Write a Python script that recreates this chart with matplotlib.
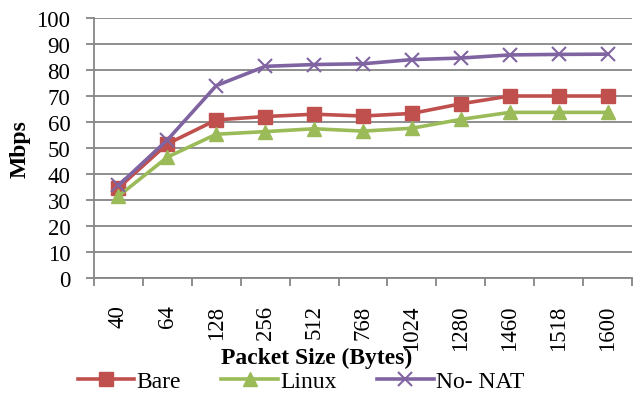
import matplotlib
matplotlib.use("Agg")
import matplotlib.pyplot as plt
import numpy as np

# throughput per packet size, Mbps
packet_sizes = ["40", "64", "128", "256", "512", "768", "1024", "1280", "1460", "1518", "1600"]
bare = [34.7, 51.6, 60.8, 62.1, 63.0, 62.3, 63.3, 67.0, 70.0, 70.0, 70.0]
linux = [31.5, 46.5, 55.3, 56.3, 57.4, 56.5, 57.6, 61.0, 63.7, 63.7, 63.7]
no_nat = [35.6, 53.1, 74.0, 81.4, 82.1, 82.4, 84.0, 84.6, 85.8, 86.0, 86.1]

plt.rcParams["font.family"] = ["Liberation Serif", "DejaVu Serif"]

fig = plt.figure(figsize=(6.34, 4.06), dpi=100)
ax = fig.add_axes([0.1483, 0.3128, 0.8486, 0.6404])

x = np.arange(len(packet_sizes))
grid_c = "#868686"

ax.plot(x, bare, color="#C0504D", lw=2.6, marker="s", ms=10, label="Bare", zorder=3)
ax.plot(x, linux, color="#9BBB59", lw=2.6, marker="^", ms=10, label="Linux", zorder=3)
ax.plot(x, no_nat, color="#8064A2", lw=2.6, marker="x", ms=10, mew=1.5, label="No- NAT", zorder=4)

ax.set_xlim(-0.5, len(packet_sizes) - 0.5)
ax.set_ylim(0, 100)
ax.set_yticks(np.arange(0, 101, 10))
ax.yaxis.grid(True, color=grid_c, lw=1.3)
ax.set_axisbelow(True)

ax.set_xticks(x)
ax.set_xticklabels(packet_sizes, rotation=90)
ax.set_xticks(np.arange(-0.5, len(packet_sizes)), minor=True)
ax.tick_params(axis="x", which="major", length=0, pad=19, labelsize=16.5)
ax.tick_params(axis="x", which="minor", length=6, width=1.3, color=grid_c)
ax.tick_params(axis="y", length=6, width=1.3, color=grid_c, labelsize=16.5, pad=11)

for side in ("top", "right"):
    ax.spines[side].set_visible(False)
for side in ("left", "bottom"):
    ax.spines[side].set_color(grid_c)
    ax.spines[side].set_linewidth(1.3)

ax.set_ylabel("Mbps", fontsize=17, fontweight="bold", labelpad=4)
fig.text(0.5, 0.118, "Packet Size (Bytes)", ha="center", va="center",
         fontsize=17, fontweight="bold")

fig.legend(loc="center", bbox_to_anchor=(0.475, 0.058), ncol=3, frameon=False,
           fontsize=17, handlelength=2.4, handletextpad=0.1, columnspacing=1.7,
           borderaxespad=0)

fig.savefig("out.png", dpi=100)
